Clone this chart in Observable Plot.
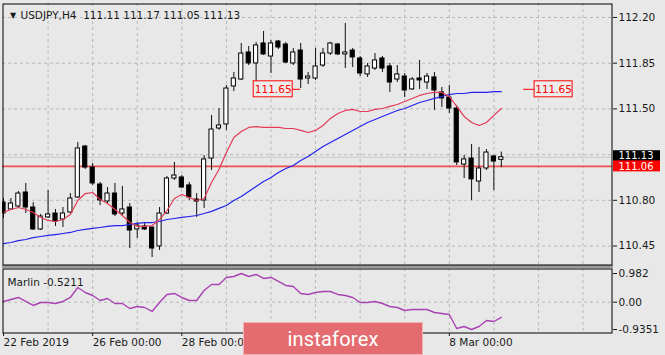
<!DOCTYPE html>
<html><head><meta charset="utf-8">
<script src="https://cdn.jsdelivr.net/npm/d3@7"></script>
<script src="https://cdn.jsdelivr.net/npm/@observablehq/plot@0.6"></script>
<style>
html,body{margin:0;padding:0;background:#e8e8e8;}
#chart{position:relative;width:665px;height:355px;overflow:hidden;background:#e8e8e8;}
#chart svg{position:absolute;left:0;top:0;}
#sep{position:absolute;left:2px;top:265px;width:611px;height:3px;background:#9a9a9a;}
#logo{position:absolute;left:243px;top:322px;width:178px;height:31px;background:#e46c70;border:1px solid #f3b3b5;color:#fff;font:20px Roboto, sans-serif;display:flex;align-items:center;justify-content:center;letter-spacing:0.2px;}
</style></head><body><div id="chart"><div id="sep"></div></div>
<script>
// ---- data ----
const symbol = "USDJPY,H4";
const lastOHLC = [111.11, 111.17, 111.05, 111.13];
const opens = [110.783,110.730,110.753,110.860,110.745,110.577,110.669,110.699,110.653,110.707,
110.822,111.212,111.051,110.921,110.791,110.852,110.699,110.745,110.577,110.600,
110.592,110.447,110.699,110.967,110.975,110.914,110.806,110.799,111.120,111.350,
111.381,111.672,111.725,111.932,111.848,112.001,111.901,112.016,111.993,111.848,
111.947,111.733,111.733,111.832,111.924,111.993,111.917,111.947,111.886,111.764,
111.809,111.886,111.825,111.725,111.748,111.649,111.733,111.702,111.741,111.626,
111.587,111.503,111.074,111.120,110.944,111.044,111.136,111.110];
const highs = [110.814,110.814,110.868,110.929,110.783,110.692,110.875,110.730,110.745,110.852,
111.243,111.220,111.082,110.937,110.898,110.929,110.906,110.776,110.630,110.630,
110.592,110.745,110.983,111.090,110.990,110.937,110.852,111.143,111.450,111.503,
111.679,111.779,112.001,111.978,112.009,112.093,112.024,112.024,112.009,111.963,
112.001,111.779,111.963,111.963,112.009,112.001,112.154,111.963,111.901,111.848,
111.924,111.901,111.848,111.832,111.771,111.741,111.871,111.771,111.779,111.664,
111.679,111.526,111.143,111.228,111.205,111.189,111.143,111.170];
const lows = [110.661,110.722,110.745,110.699,110.569,110.569,110.661,110.600,110.592,110.699,
110.814,111.036,110.914,110.760,110.776,110.676,110.684,110.431,110.508,110.569,
110.362,110.416,110.692,110.952,110.891,110.799,110.669,110.738,111.028,111.335,
111.335,111.633,111.718,111.832,111.702,111.909,111.771,111.955,111.848,111.832,
111.656,111.687,111.718,111.817,111.909,111.909,111.809,111.817,111.748,111.741,
111.794,111.779,111.626,111.702,111.587,111.641,111.649,111.649,111.488,111.511,
111.465,111.067,110.967,110.799,110.860,111.028,110.875,111.050];
const closes = [110.699,110.776,110.852,110.745,110.577,110.676,110.692,110.638,110.699,110.814,
111.197,111.051,110.929,110.799,110.852,110.692,110.730,110.569,110.607,110.577,
110.431,110.699,110.967,110.990,110.898,110.822,110.791,111.113,111.342,111.373,
111.656,111.733,111.924,111.848,111.986,111.917,112.001,111.970,111.855,111.932,
111.725,111.748,111.825,111.924,112.001,111.917,111.932,111.894,111.771,111.825,
111.871,111.809,111.702,111.764,111.641,111.725,111.718,111.748,111.641,111.580,
111.503,111.090,111.113,110.960,111.044,111.166,111.097,111.130];
const maRed = [110.707,110.730,110.745,110.730,110.707,110.669,110.646,110.638,110.653,110.692,
110.799,110.852,110.860,110.806,110.776,110.730,110.684,110.630,110.600,110.600,
110.607,110.653,110.722,110.814,110.845,110.822,110.799,110.814,110.937,111.036,
111.166,111.281,111.327,111.358,111.365,111.358,111.358,111.358,111.350,111.350,
111.335,111.319,111.335,111.373,111.427,111.465,111.488,111.496,111.480,111.480,
111.496,111.503,111.519,111.534,111.557,111.580,111.603,111.618,111.626,111.626,
111.595,111.519,111.442,111.396,111.373,111.396,111.450,111.503];
const maBlue = [110.469,110.477,110.492,110.500,110.515,110.523,110.531,110.538,110.546,110.554,
110.569,110.577,110.585,110.592,110.600,110.607,110.607,110.615,110.623,110.630,
110.630,110.638,110.653,110.661,110.669,110.676,110.684,110.699,110.715,110.738,
110.760,110.799,110.829,110.868,110.906,110.944,110.975,111.013,111.044,111.067,
111.105,111.136,111.174,111.212,111.243,111.274,111.304,111.335,111.365,111.396,
111.419,111.442,111.465,111.488,111.503,111.526,111.549,111.564,111.580,111.595,
111.610,111.618,111.618,111.626,111.626,111.626,111.633,111.633];
const marlin = [0.024,0.092,0.161,0.024,-0.113,-0.010,-0.010,-0.045,0.024,0.161,
0.503,0.332,0.229,0.058,0.127,-0.045,-0.045,-0.216,-0.147,-0.182,
-0.318,-0.010,0.264,0.298,0.161,0.058,0.058,0.401,0.606,0.606,
0.846,0.880,0.982,0.880,0.949,0.812,0.846,0.709,0.572,0.538,
0.298,0.264,0.332,0.366,0.366,0.264,0.229,0.161,-0.010,-0.010,
0.024,-0.045,-0.147,-0.182,-0.284,-0.250,-0.250,-0.250,-0.353,-0.387,
-0.421,-0.901,-0.832,-0.9351,-0.832,-0.627,-0.661,-0.5211];
const marlinLabel = "Marlin -0.5211";
const hLevel = 111.06;
const labelIdx = [40, 70];
const labelPrice = [111.65, 111.65];
const priceGrid = [112.20, 111.85, 111.50, 111.15, 110.80, 110.45];
const priceLabels = [112.20, 111.85, 111.50, 110.80, 110.45]; // 111.15 is hidden under the price boxes
const marlinTicks = [0.982, 0, -0.9351];
const marlinTickLabels = ["0.982", "0.00", "-0.9351"];
const dateTickIdx = [0, 12, 24, 60];
const dateTickLabels = ["22 Feb 2019", "26 Feb 00:00", "28 Feb 00:00", "8 Mar 00:00"];

// ---- build ----
const candles = opens.map((o, i) => ({i, o, h: highs[i], l: lows[i], c: closes[i]}));
const xDomain = [-0.135, 81.965];
const xMax = xDomain[1];
const gridIdx = d3.range(6, 82, 6);
const font = {fontFamily: "'DejaVu Sans', sans-serif", fontSize: "10.5px", color: "#1a1a1a", background: "transparent", overflow: "visible"};
const dash = {stroke: "#b9b9b9", strokeOpacity: 1, strokeDasharray: "3,3"};
const lvl = labelIdx.map((i, k) => ({i, p: labelPrice[k]}));
const leftLbl = [lvl[0]], rightLbl = [lvl[1]];
const mFmt = new Map(marlinTicks.map((v, k) => [v, marlinTickLabels[k]]));
const dFmt = new Map(dateTickIdx.map((v, k) => [v, dateTickLabels[k]]));
const title = symbol + "\u00a0\u00a0" + lastOHLC.map(d => d.toFixed(2)).join(" ");

const main = Plot.plot({
  width: 665, height: 355, marginLeft: 2, marginRight: 53, marginTop: 3, marginBottom: 90,
  style: font,
  x: {domain: xDomain, axis: null},
  y: {domain: [110.301, 112.307], axis: null},
  marks: [
    Plot.gridX(gridIdx, dash),
    Plot.gridY(priceGrid, dash),
    Plot.ruleY([lastOHLC[3]], {stroke: "#c6c6c6"}),
    Plot.ruleY([hLevel], {stroke: "#ef4f4f", strokeWidth: 1.6}),
    Plot.ruleX(candles, {x: "i", y1: "l", y2: "h", stroke: "#111", clip: true}),
    Plot.rect(candles, {x1: d => d.i - 0.28, x2: d => d.i + 0.28, y1: "o", y2: "c",
      fill: d => d.c >= d.o ? "#fff" : "#000", stroke: "#000", strokeWidth: 1, clip: true}),
    Plot.line(maBlue, {x: (d, i) => i, y: d => d, stroke: "#2323ee", strokeWidth: 1.2}),
    Plot.line(maRed, {x: (d, i) => i, y: d => d, stroke: "#e43a55", strokeWidth: 1.2}),
    // price labels
    Plot.ruleY(leftLbl, {y: "p", x1: "i", x2: "i", insetLeft: -8, stroke: "#ff0000"}),
    Plot.rect(leftLbl, {x1: "i", x2: "i", y1: "p", y2: "p", insetLeft: -47, insetRight: 8, insetTop: -8, insetBottom: -8, fill: "#ececec", stroke: "#ff0000"}),
    Plot.text(leftLbl, {x: "i", y: "p", text: d => d.p.toFixed(2), dx: -27.5, fill: "#ff0000"}),
    Plot.ruleY(rightLbl, {y: "p", x1: "i", x2: "i", insetRight: -11, stroke: "#ff0000"}),
    Plot.rect(rightLbl, {x1: "i", x2: "i", y1: "p", y2: "p", insetLeft: 11, insetRight: -49, insetTop: -8, insetBottom: -8, fill: "#ececec", stroke: "#ff0000"}),
    Plot.text(rightLbl, {x: "i", y: "p", text: d => d.p.toFixed(2), dx: 30, fill: "#ff0000"}),
    Plot.frame({stroke: "#000", inset: 0.5}),
    Plot.axisY(priceGrid, {anchor: "right", tickFormat: () => "", tickSize: 4, tickPadding: 2}),
    Plot.axisY(priceLabels, {anchor: "right", tickFormat: d => d.toFixed(2), tickSize: 0, tickPadding: 6}),
    // current price boxes
    Plot.rect([lastOHLC[3]], {x1: xMax, x2: xMax, y1: d => d, y2: d => d, insetLeft: 1, insetRight: -48, insetTop: -6.5, insetBottom: -4.5, fill: "#000"}),
    Plot.text([lastOHLC[3]], {x: xMax, y: d => d, text: d => d.toFixed(2), dx: 6, dy: -1.6, fontSize: 10, textAnchor: "start", fill: "#fff"}),
    Plot.rect([hLevel], {x1: xMax, x2: xMax, y1: d => d, y2: d => d, insetLeft: 1, insetRight: -48, insetTop: -5.5, insetBottom: -5.5, fill: "#ff0000"}),
    Plot.text([hLevel], {x: xMax, y: d => d, text: d => d.toFixed(2), dx: 6, dy: 0.8, fontSize: 10, textAnchor: "start", fill: "#fff"}),
    // title
    Plot.text(["\u25BC"], {frameAnchor: "top-left", dx: 7.5, dy: 8.5, fontSize: 8}),
    Plot.text([title], {frameAnchor: "top-left", dx: 18, dy: 8.5, textAnchor: "start"})
  ]
});

const ind = Plot.plot({
  width: 665, height: 355, marginLeft: 2, marginRight: 53, marginTop: 268, marginBottom: 22,
  style: font,
  x: {domain: xDomain, axis: null},
  y: {domain: [-0.9351, 0.982], range: [329, 273], axis: null},
  marks: [
    Plot.gridX(gridIdx, dash),
    Plot.gridY([0], dash),
    Plot.line(marlin, {x: (d, i) => i, y: d => d, stroke: "#a943b3", strokeWidth: 1.4}),
    Plot.frame({stroke: "#000", inset: 0.5}),
    Plot.text([marlinLabel], {frameAnchor: "top-left", dx: 5, dy: 10, textAnchor: "start"}),
    Plot.axisY(marlinTicks, {anchor: "right", tickFormat: d => mFmt.get(d), tickSize: 4, tickPadding: 2}),
    Plot.axisX(dateTickIdx, {anchor: "bottom", tickFormat: d => dFmt.get(d), textAnchor: "start", tickSize: 3, tickPadding: 2})
  ]
});

const chart = document.getElementById("chart");
chart.appendChild(main);
chart.appendChild(ind);
const logo = document.createElement("div");
logo.id = "logo";
logo.textContent = "instaforex";
chart.appendChild(logo);
</script>
</body></html>
